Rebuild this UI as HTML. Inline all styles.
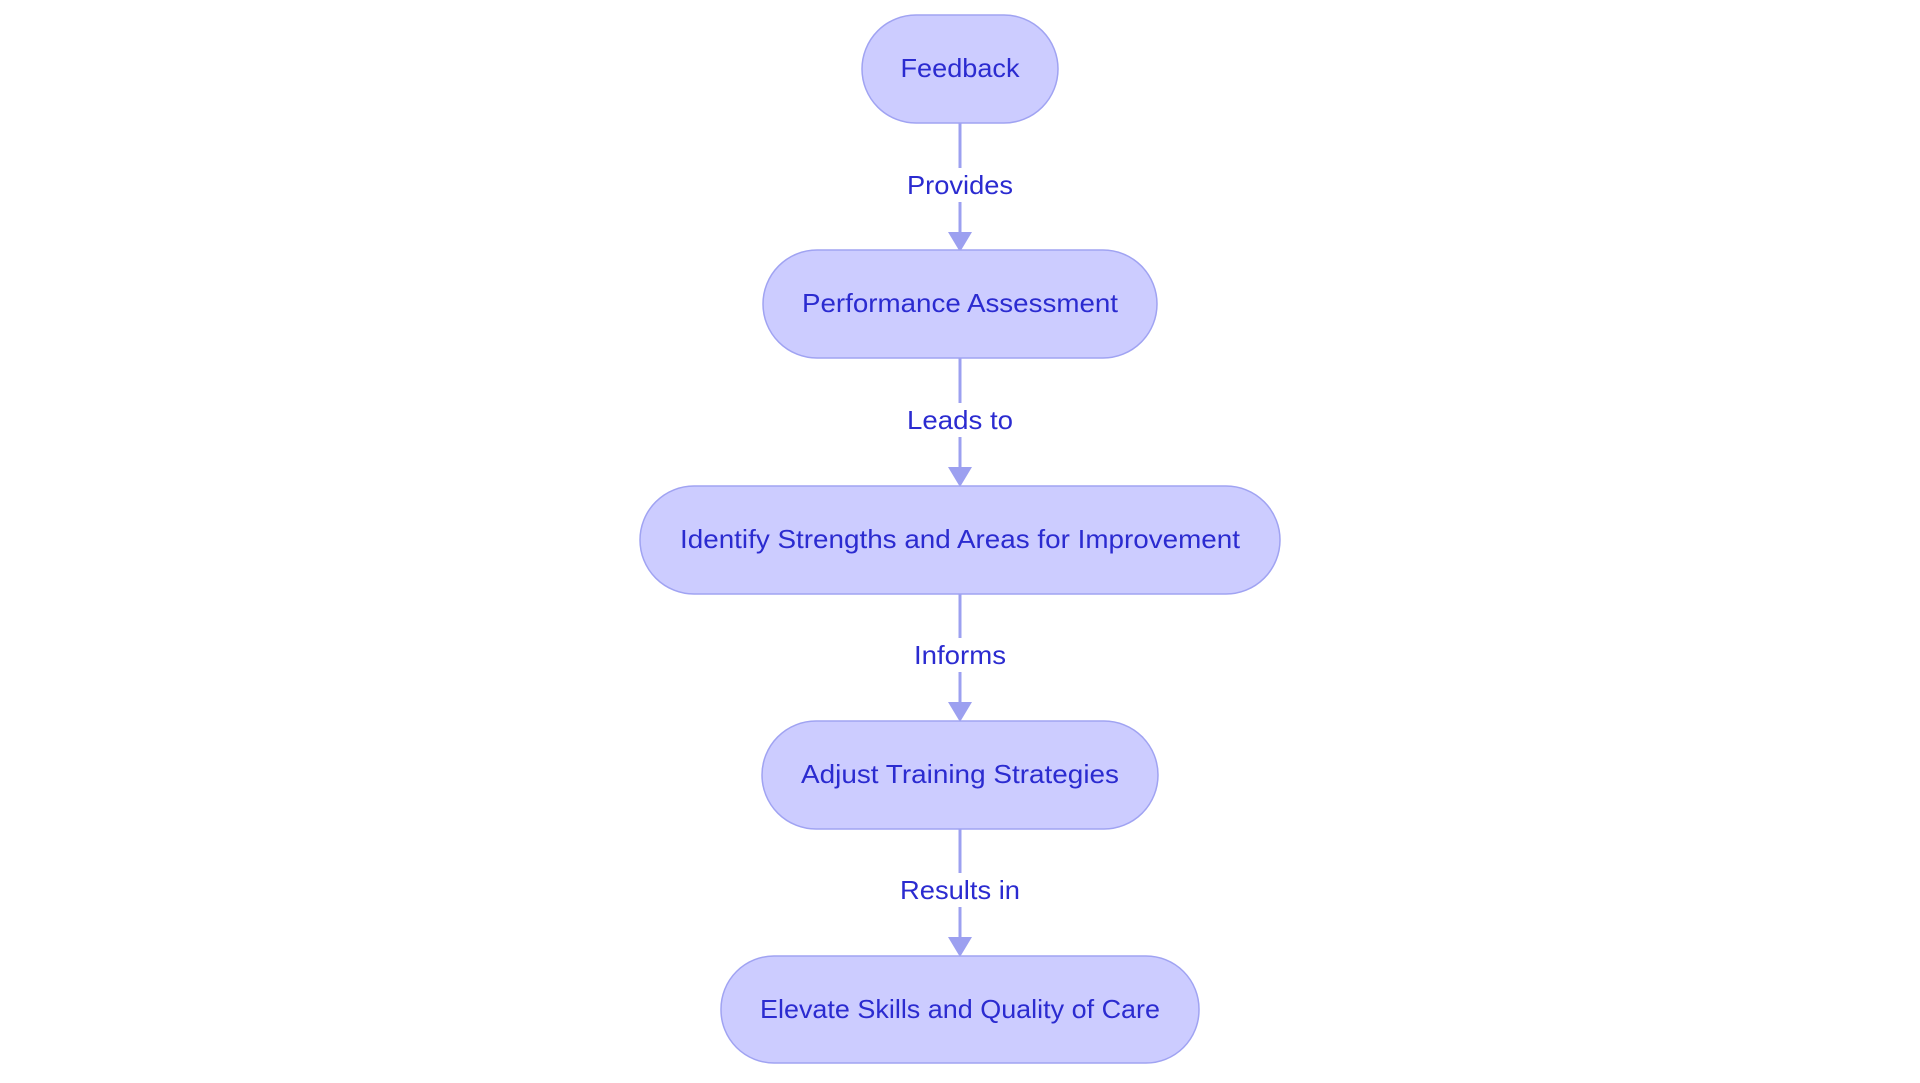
<!DOCTYPE html>
<html><head><meta charset="utf-8"><style>
html,body{margin:0;padding:0;background:#fff;}
svg{display:block;}
text{font-family:"Liberation Sans",sans-serif;fill:#2b2bd0;font-size:26px;}
</style></head><body>
<svg width="1920" height="1083" viewBox="0 0 1920 1083" xmlns="http://www.w3.org/2000/svg">
<g stroke="#9ca0f0" stroke-width="3" fill="none">
<line x1="960" y1="123" x2="960" y2="235"/>
<line x1="960" y1="358" x2="960" y2="470"/>
<line x1="960" y1="594" x2="960" y2="705"/>
<line x1="960" y1="829" x2="960" y2="940"/>
</g>
<g fill="#9ca0f0">
<polygon points="948,232 972,232 960,252"/>
<polygon points="948,467 972,467 960,487"/>
<polygon points="948,702 972,702 960,722"/>
<polygon points="948,937 972,937 960,957"/>
</g>
<g fill="#fff">
<rect x="902" y="168" width="116" height="34"/>
<rect x="902" y="403" width="116" height="34"/>
<rect x="909" y="638" width="102" height="34"/>
<rect x="895" y="873" width="130" height="34"/>
</g>
<g fill="#ccccff" stroke="#a0a3f2" stroke-width="1.5">
<rect x="862" y="15" width="196" height="108" rx="54"/>
<rect x="763" y="250" width="394" height="108" rx="54"/>
<rect x="640" y="486" width="640" height="108" rx="54"/>
<rect x="762" y="721" width="396" height="108" rx="54"/>
<rect x="721" y="956" width="478" height="107" rx="53"/>
</g>
<g text-anchor="middle">
<text x="960" y="77" textLength="119" lengthAdjust="spacingAndGlyphs">Feedback</text>
<text x="960" y="312" textLength="316" lengthAdjust="spacingAndGlyphs">Performance Assessment</text>
<text x="960" y="548" textLength="560" lengthAdjust="spacingAndGlyphs">Identify Strengths and Areas for Improvement</text>
<text x="960" y="783" textLength="318" lengthAdjust="spacingAndGlyphs">Adjust Training Strategies</text>
<text x="960" y="1018" textLength="400" lengthAdjust="spacingAndGlyphs">Elevate Skills and Quality of Care</text>
<text x="960" y="194" textLength="106" lengthAdjust="spacingAndGlyphs">Provides</text>
<text x="960" y="429" textLength="106" lengthAdjust="spacingAndGlyphs">Leads to</text>
<text x="960" y="664" textLength="92" lengthAdjust="spacingAndGlyphs">Informs</text>
<text x="960" y="899" textLength="120" lengthAdjust="spacingAndGlyphs">Results in</text>
</g>
</svg>
</body></html>
